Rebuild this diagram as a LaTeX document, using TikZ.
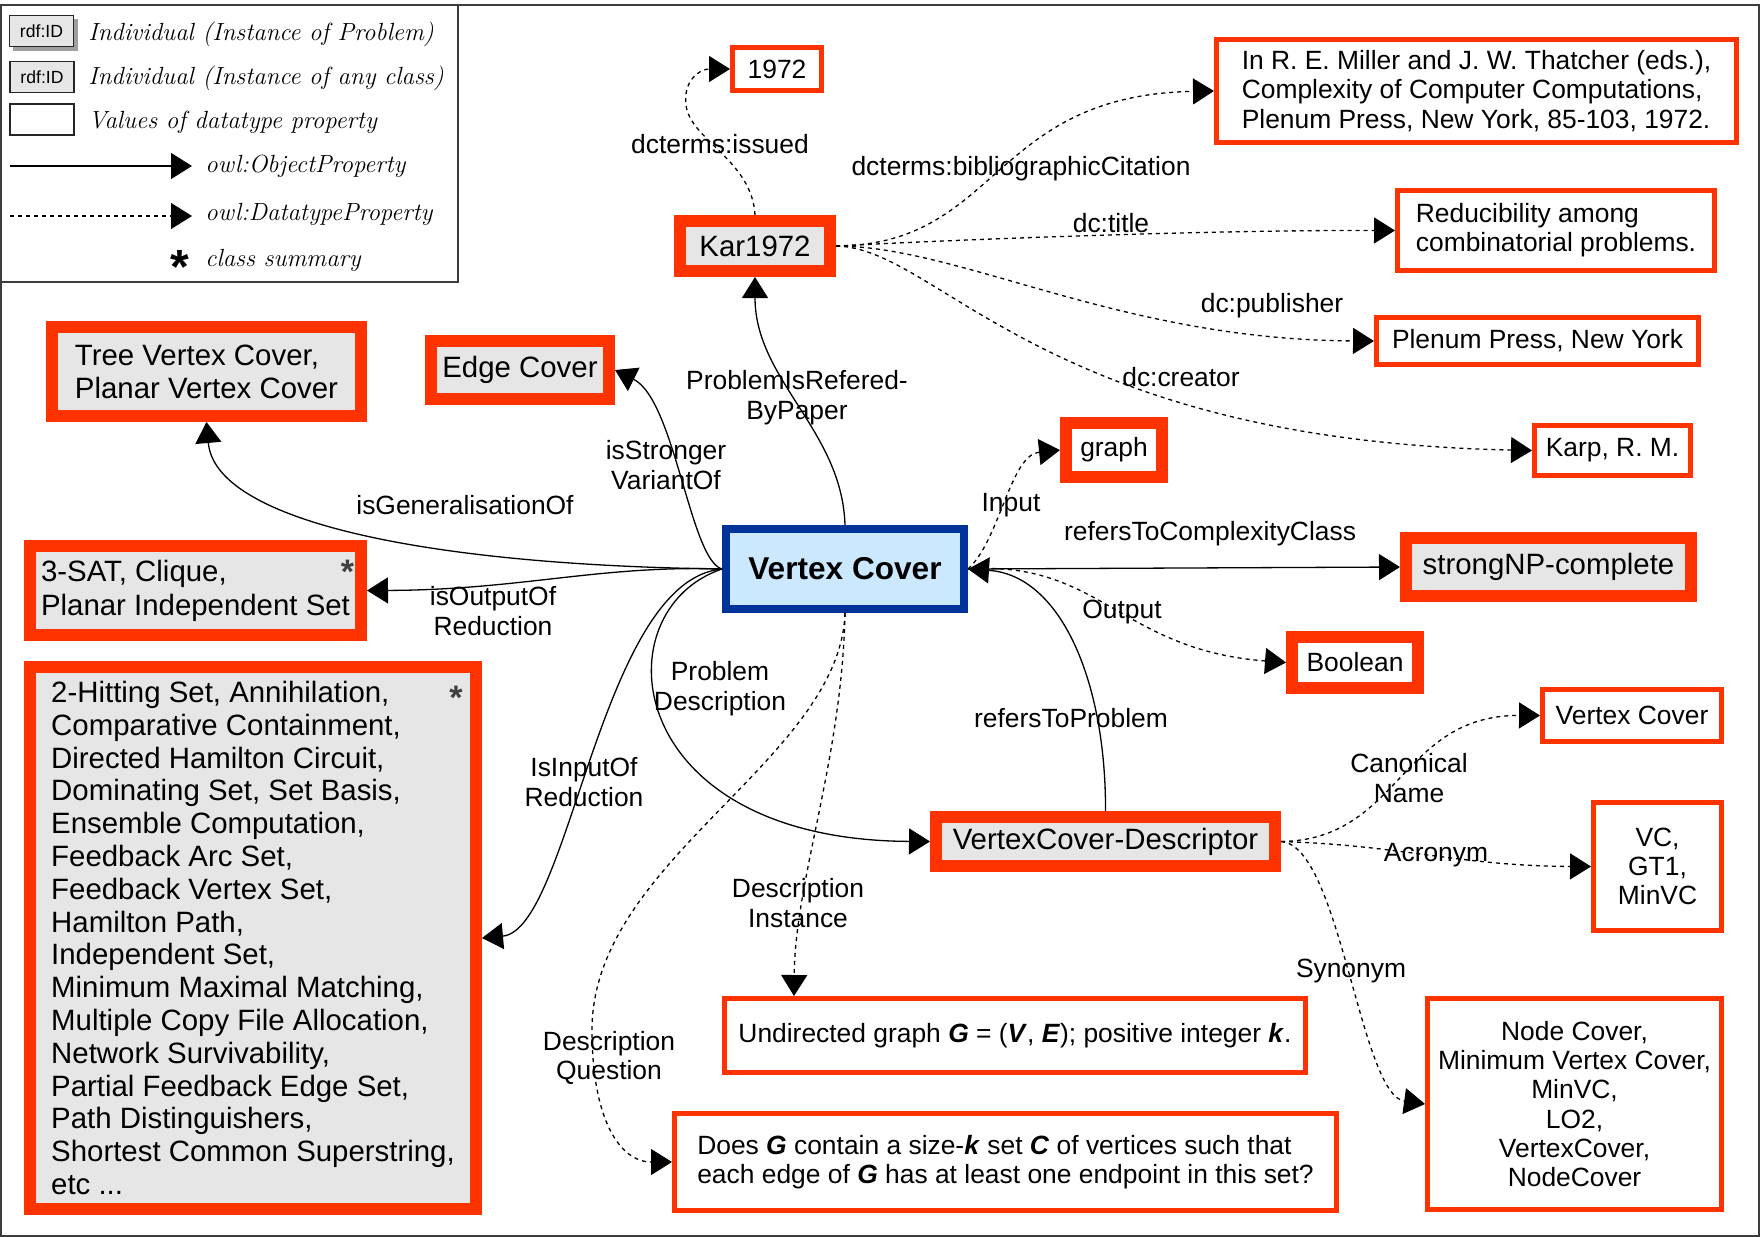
\documentclass[tikz,border=0pt]{standalone}
\usepackage{fontspec}
\newfontfamily\arial{Liberation Sans}
\usetikzlibrary{arrows.meta}
\definecolor{myred}{RGB}{255,51,0}
\definecolor{boxgray}{RGB}{230,230,230}
\definecolor{vcblue}{RGB}{0,51,153}
\definecolor{vcfill}{RGB}{204,232,255}
\definecolor{frame}{RGB}{60,60,60}
\newcommand\nfont{\arial\fontsize{13.2}{14.6}\selectfont}
\newcommand\gfont{\arial\fontsize{14.7}{16.4}\selectfont}
\newcommand\lfont{\arial\fontsize{13.2}{14.9}\selectfont}
\newcommand\legfont{\itshape\fontsize{12.4}{14}\selectfont}
\newcommand\bxi[1]{\textbf{\textit{#1}}}
\begin{document}
\begin{tikzpicture}[x=0.5pt,y=-0.5pt,
  gbox/.style={draw=myred, line width=6pt, fill=boxgray, inner sep=0pt, align=left, font=\gfont},
  wbox/.style={draw=myred, line width=6pt, fill=white, inner sep=0pt, align=center, font=\nfont},
  vbox/.style={draw=myred, line width=2.5pt, fill=white, inner sep=0pt, align=center, font=\nfont},
  lab/.style={inner sep=0pt, align=center, font=\lfont},
  star/.style={inner sep=0pt, anchor=north, text=black!75, font=\arial\bfseries\fontsize{17}{17}\selectfont},
  obj/.style={line width=0.65pt, -{Triangle[length=10.5pt,width=13pt]}},
  dat/.style={obj, dash pattern=on 2pt off 2pt},
  legtext/.style={inner sep=0pt, anchor=west, font=\legfont},
  legbox/.style={draw=black!85, line width=0.6pt, inner sep=0pt, minimum width=32pt, minimum height=15.5pt, font=\arial\fontsize{8.8}{10}\selectfont}
]
\useasboundingbox (0,0) rectangle (1764,1236);
\fill[white] (0,0) rectangle (1764,1236);
% outer frame and legend frame
\draw[frame, line width=0.8pt] (1,5) rectangle (1759,1236);
\draw[frame, line width=0.8pt] (1,5) rectangle (458,282);

% legend
\fill[gray!75] (13,19) rectangle (78,51);
\node[legbox, fill=boxgray] (lg1) at (41.5,31) {rdf:ID};
\node[legtext] (lt1) at (88,34) {Individual (Instance of Problem)};
\node[legtext] (lt2) at (88,78) {Individual (Instance of any class)};
\node[legbox, fill=boxgray] (lg2) at (42,77) {rdf:ID};
\node[legbox, fill=white] (lg3) at (42,119.5) {};
\node[legtext] (lt3) at (88,122) {Values of datatype property};
\coordinate (la1) at (10,166);
\coordinate (la2) at (192,166);
\draw[obj] (la1) -- (la2);
\node[legtext] (lt4) at (205,166) {owl:ObjectProperty};
\coordinate (lb1) at (10,216);
\coordinate (lb2) at (192,216);
\draw[dat] (lb1) -- (lb2);
\node[legtext] (lt5) at (205,214) {owl:DatatypeProperty};
\node[inner sep=0pt, anchor=north, font=\arial\bfseries\fontsize{24}{24}\selectfont] (lstar) at (180,250) {*};
\node[legtext] (lt6) at (205,260) {class summary};

% nodes
\node[vbox, minimum width=44.5pt, minimum height=21.5pt] (y1972) at (777,69) {1972};
\node[vbox, align=left, minimum width=260pt, minimum height=51.5pt] (cit) at (1476.5,91) {In R. E. Miller and J. W. Thatcher (eds.),\\Complexity of Computer Computations,\\Plenum Press, New York, 85-103, 1972.};
\node[gbox, align=center, minimum width=75pt, minimum height=25pt] (kar) at (755,246) {Kar1972};
\node[vbox, align=left, minimum width=158.5pt, minimum height=40pt] (title) at (1556,230.5) {Reducibility among\\combinatorial problems.};
\node[vbox, minimum width=161pt, minimum height=23.5pt] (pub) at (1537.5,341) {Plenum Press, New York};
\node[vbox, minimum width=78pt, minimum height=25pt] (karp) at (1612.5,450.5) {Karp, R. M.};
\node[gbox, minimum width=154.5pt, minimum height=44.5pt] (tree) at (206.5,371.5) {Tree Vertex Cover,\\Planar Vertex Cover};
\node[gbox, minimum width=89pt, minimum height=29pt] (edge) at (520,370) {Edge Cover};
\node[wbox, minimum width=48pt, minimum height=27pt] (graph) at (1114,450) {graph};
\node[gbox, minimum width=165.5pt, minimum height=44.5pt, font=\arial\fontsize{14.7}{16.9}\selectfont] (sat) at (195.5,590.5) {3-SAT, Clique,\\Planar Independent Set};
\node[star] (satstar) at (347.5,560) {*};
\node[draw=vcblue, line width=4pt, fill=vcfill, inner sep=0pt, minimum width=119pt, minimum height=40pt, font=\arial\bfseries\fontsize{15.8}{18}\selectfont] (vc) at (845,569) {Vertex Cover};
\node[gbox, minimum width=142.5pt, minimum height=29pt] (np) at (1548.5,567) {strongNP-complete};
\node[wbox, minimum width=63pt, minimum height=25.5pt] (bool) at (1355,662.5) {Boolean};
\node[gbox, minimum width=223pt, minimum height=271pt] (list) at (253,938) {2-Hitting Set, Annihilation,\\Comparative Containment,\\Directed Hamilton Circuit,\\Dominating Set, Set Basis,\\Ensemble Computation,\\Feedback Arc Set,\\Feedback Vertex Set,\\Hamilton Path,\\Independent Set,\\Minimum Maximal Matching,\\Multiple Copy File Allocation,\\Network Survivability,\\Partial Feedback Edge Set,\\Path Distinguishers,\\Shortest Common Superstring,\\etc ...};
\node[star] (liststar) at (456,686) {*};
\node[vbox, minimum width=89.5pt, minimum height=26pt] (canon) at (1632,715.5) {Vertex Cover};
\node[gbox, align=center, minimum width=169.5pt, minimum height=24.5pt] (desc) at (1105.5,841.5) {VertexCover-Descriptor};
\node[vbox, minimum width=64pt, minimum height=64pt] (acr) at (1657.5,866.5) {VC,\\GT1,\\MinVC};
\node[vbox, minimum width=290.5pt, minimum height=37pt] (inst) at (1015,1035.5) {Undirected graph \bxi{G} = (\bxi{V}, \bxi{E}); positive integer \bxi{k}.};
\node[vbox, minimum width=147pt, minimum height=105.5pt] (syn) at (1574.5,1104) {Node Cover,\\Minimum Vertex Cover,\\MinVC,\\LO2,\\VertexCover,\\NodeCover};
\node[vbox, align=left, minimum width=331pt, minimum height=48.5pt] (ques) at (1005.5,1162) {Does \bxi{G} contain a size-\bxi{k} set \bxi{C} of vertices such that\\each edge of \bxi{G} has at least one endpoint in this set?};

% connectors
\draw[dat] (kar.north) .. controls (752,160) and (690,140) .. (686,105) .. controls (683,80) and (700,69) .. (y1972.west);
\draw[dat] (kar.east) .. controls (1000,245) and (990,95) .. (cit.west);
\draw[dat] (kar.east) .. controls (950,240) and (1200,230) .. (title.west);
\draw[dat] (kar.east) .. controls (960,246) and (1120,340) .. (pub.west);
\draw[dat] (kar.east) .. controls (940,248) and (1040,440) .. (karp.west);
\draw[obj] (vc.north) .. controls (842,430) and (755,380) .. (kar.south);
\draw[obj] (vc.west) .. controls (690,560) and (675,400) .. (edge.east);
\draw[obj] (vc.west) .. controls (420,565) and (215,520) .. (tree.south);
\draw[obj] (vc.west) .. controls (600,565) and (520,590) .. (sat.east);
\draw[obj] (vc.west) .. controls (600,580) and (570,930) .. (list.east);
\draw[obj] (vc.west) .. controls (600,610) and (620,840) .. (desc.west);
\draw[obj] (vc.east) -- (np.west);
\draw[obj] (desc.north) .. controls (1106,680) and (1060,575) .. (vc.east);
\draw[dat] (vc.east) .. controls (1000,540) and (1010,455) .. (graph.west);
\draw[dat] (vc.east) .. controls (1100,560) and (1120,650) .. (bool.west);
\draw[dat] (vc.south) .. controls (842,760) and (795,880) .. ([xshift=36pt]inst.north west);
\draw[dat] (vc.south) .. controls (840,760) and (592,860) .. (592,1030) .. controls (592,1120) and (620,1162) .. (ques.west);
\draw[dat] (desc.east) .. controls (1400,840) and (1400,715) .. (canon.west);
\draw[dat] (desc.east) .. controls (1400,845) and (1460,866) .. (acr.west);
\draw[dat] (desc.east) .. controls (1340,845) and (1360,1095) .. (syn.west);

% labels
\node[lab] (l1) at (720,144) {dcterms:issued};
\node[lab] (l2) at (1021,169) {dcterms:bibliographicCitation};
\node[lab] (l3) at (1111,223) {dc:title};
\node[lab] (l4) at (1272,306) {dc:publisher};
\node[lab] (l5) at (1181,377) {dc:creator};
\node[lab] (l6) at (797,398) {ProblemIsRefered-\\ByPaper};
\node[lab] (l7) at (666,465) {isStronger\\VariantOf};
\node[lab] (l8) at (465,505) {isGeneralisationOf};
\node[lab] (l9) at (1011,505) {Input};
\node[lab] (l10) at (1210,534) {refersToComplexityClass};
\node[lab] (l11) at (493,611) {isOutputOf\\Reduction};
\node[lab] (l12) at (1122,612) {Output};
\node[lab] (l13) at (720,689) {Problem\\Description};
\node[lab] (l14) at (1071,718) {refersToProblem};
\node[lab] (l15) at (1409,778) {Canonical\\Name};
\node[lab] (l16) at (1436,855) {Acronym};
\node[lab] (l17) at (584,782) {IsInputOf\\Reduction};
\node[lab] (l18) at (798,903) {Description\\Instance};
\node[lab] (l19) at (1351,971) {Synonym};
\node[lab] (l20) at (609,1058) {Description\\Question};
\end{tikzpicture}
\end{document}
